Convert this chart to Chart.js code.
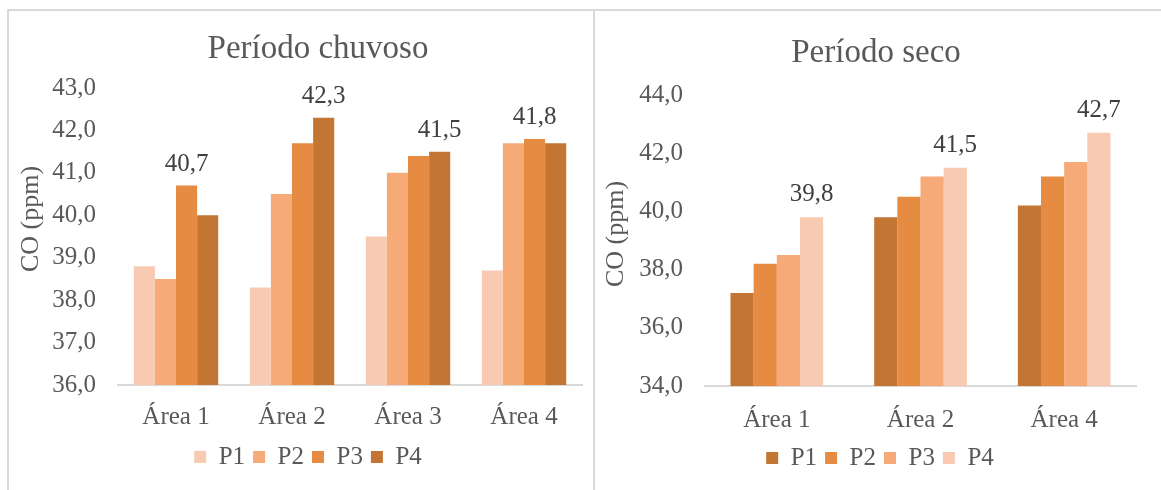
<!DOCTYPE html>
<html lang="pt">
<head>
<meta charset="utf-8">
<title>CO (ppm) – Período chuvoso e Período seco</title>
<script src="https://cdn.jsdelivr.net/npm/chart.js@4/dist/chart.umd.min.js"></script>
<style>
  html, body { margin: 0; padding: 0; background: #ffffff; }
  body { width: 1161px; height: 490px; position: relative; overflow: hidden; }
  .rule { position: absolute; background: #d9d9d9; }
  .panel { position: absolute; }
</style>
</head>
<body>
<div class="rule" style="left:7px; top:9px; width:1154px; height:2px;"></div>
<div class="rule" style="left:7px; top:9px; width:2px; height:481px;"></div>
<div class="rule" style="left:593px; top:9px; width:2px; height:481px;"></div>

<div class="panel" style="left:10px; top:12px; width:582px; height:478px;"><canvas id="chuvoso" width="582" height="478"></canvas></div>
<div class="panel" style="left:596px; top:12px; width:565px; height:478px;"><canvas id="seco" width="565" height="478"></canvas></div>

<script>
// ---- Período chuvoso ----
const rainyAreas = ['Área 1', 'Área 2', 'Área 3', 'Área 4'];
const rainyP1 = [38.8, 38.3, 39.5, 38.7];
const rainyP2 = [38.5, 40.5, 41.0, 41.7];
const rainyP3 = [40.7, 41.7, 41.4, 41.8];
const rainyP4 = [40.0, 42.3, 41.5, 41.7];
const rainyTicks = { min: 36, max: 43, step: 1 };

// ---- Período seco ----
const dryAreas = ['Área 1', 'Área 2', 'Área 4'];
const dryP1 = [37.2, 39.8, 40.2];
const dryP2 = [38.2, 40.5, 41.2];
const dryP3 = [38.5, 41.2, 41.7];
const dryP4 = [39.8, 41.5, 42.7];
const dryTicks = { min: 34, max: 44, step: 2 };

const seriesNames = ['P1', 'P2', 'P3', 'P4'];

const FONT = "'Liberation Serif', 'DejaVu Serif', serif";
const TEXT = '#595959';
const LIGHT = '#F8CAB1';
const MID_LIGHT = '#F5AA78';
const MID_DARK = '#E68B42';
const DARK = '#C37534';

const fmt = v => Number(v).toFixed(1).replace('.', ',');

// Chart title, rotated axis title and the value of the tallest bar of each group
const panelText = {
  id: 'panelText',
  afterDatasetsDraw(chart, args, o) {
    const ctx = chart.ctx;
    ctx.save();
    ctx.fillStyle = TEXT;

    ctx.font = `${o.titleSize}px ${FONT}`;
    ctx.textAlign = 'center';
    ctx.textBaseline = 'alphabetic';
    ctx.fillText(o.title, o.titleX, o.titleY);

    ctx.save();
    ctx.translate(o.axisX, o.axisY);
    ctx.rotate(-Math.PI / 2);
    ctx.font = `${o.axisSize}px ${FONT}`;
    ctx.textBaseline = 'middle';
    ctx.fillText(o.axisTitle, 0, 0);
    ctx.restore();

    ctx.fillStyle = '#404040';
    ctx.font = `${o.labelSize}px ${FONT}`;
    ctx.textAlign = 'center';
    ctx.textBaseline = 'alphabetic';
    const n = chart.data.labels.length;
    for (let i = 0; i < n; i++) {
      let best = -1, bv = -Infinity;
      chart.data.datasets.forEach((ds, d) => {
        if (ds.data[i] > bv) { bv = ds.data[i]; best = d; }
      });
      const bar = chart.getDatasetMeta(best).data[i];
      ctx.fillText(fmt(bv), bar.x, bar.y - o.gap);
    }
    ctx.restore();
  }
};

function makeChart(id, cfg) {
  const datasets = cfg.series.map((vals, k) => ({
    label: seriesNames[k],
    data: vals,
    backgroundColor: cfg.colors[k],
    borderWidth: 0,
    categoryPercentage: cfg.groupWidth,
    barPercentage: 1.0
  }));
  return new Chart(document.getElementById(id), {
    type: 'bar',
    data: { labels: cfg.areas, datasets },
    plugins: [panelText],
    options: {
      responsive: false,
      animation: false,
      layout: { padding: cfg.padding },
      scales: {
        x: {
          grid: { display: false, drawTicks: false },
          border: { display: true, color: '#d9d9d9', width: 2 },
          ticks: { color: TEXT, font: { family: FONT, size: 25 }, padding: cfg.xPad },
          afterFit: s => { s.height = cfg.xHeight; }
        },
        y: {
          min: cfg.ticks.min,
          max: cfg.ticks.max,
          grid: { display: false, drawTicks: false },
          border: { display: false },
          ticks: {
            stepSize: cfg.ticks.step,
            color: TEXT,
            font: { family: FONT, size: 25 },
            padding: 22,
            callback: v => fmt(v)
          },
          afterFit: s => { s.width = cfg.yWidth; }
        }
      },
      plugins: {
        legend: {
          position: 'bottom',
          labels: {
            color: TEXT,
            font: { family: FONT, size: 25 },
            boxWidth: 12,
            boxHeight: 12,
            padding: 8
          }
        },
        tooltip: { enabled: false },
        panelText: cfg.text
      }
    }
  });
}

makeChart('chuvoso', {
  areas: rainyAreas,
  series: [rainyP1, rainyP2, rainyP3, rainyP4],
  colors: [LIGHT, MID_LIGHT, MID_DARK, DARK],
  ticks: rainyTicks,
  groupWidth: 0.728,
  padding: { left: 24, right: 10, top: 76, bottom: 10.5 },
  yWidth: 84,
  xHeight: 51.5,
  xPad: 17,
  text: {
    title: 'Período chuvoso', titleX: 308, titleY: 46, titleSize: 33,
    axisTitle: 'CO (ppm)', axisX: 21, axisY: 207, axisSize: 26,
    labelSize: 25, gap: 15
  }
});

makeChart('seco', {
  areas: dryAreas,
  series: [dryP1, dryP2, dryP3, dryP4],
  colors: [DARK, MID_DARK, MID_LIGHT, LIGHT],
  ticks: dryTicks,
  groupWidth: 0.645,
  padding: { left: 28, right: 25, top: 83, bottom: 9.5 },
  yWidth: 81,
  xHeight: 51.5,
  xPad: 19,
  text: {
    title: 'Período seco', titleX: 280, titleY: 50, titleSize: 33,
    axisTitle: 'CO (ppm)', axisX: 20, axisY: 222, axisSize: 26,
    labelSize: 25, gap: 16
  }
});
</script>
</body>
</html>
